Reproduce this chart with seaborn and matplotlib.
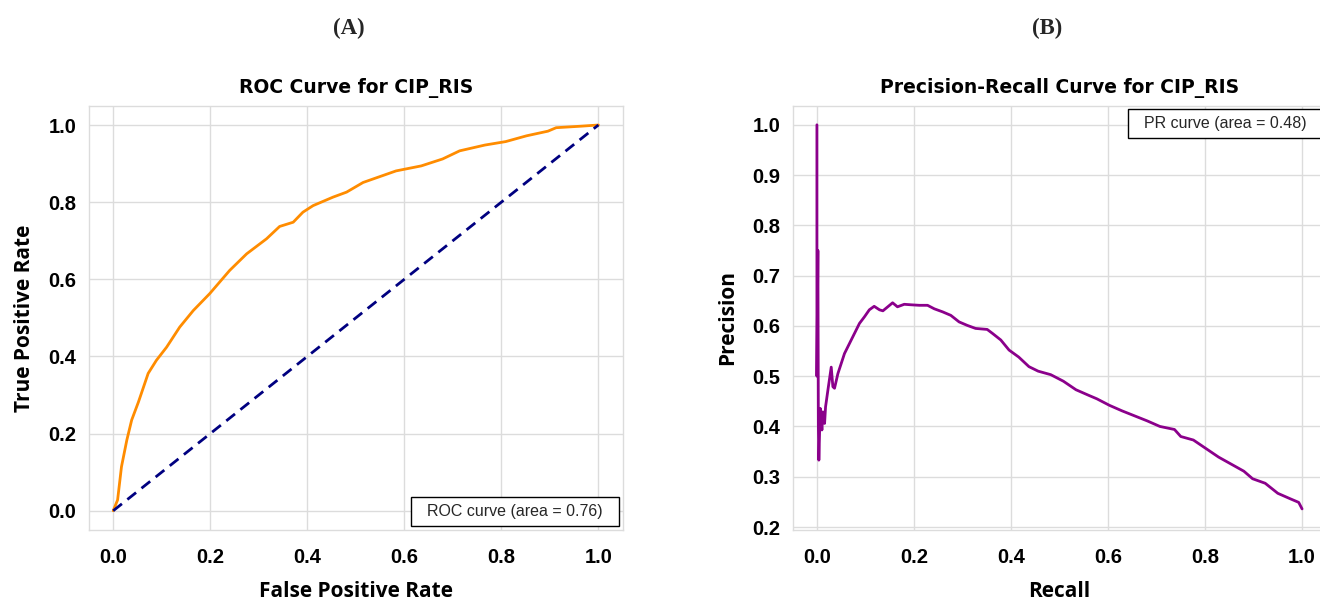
import matplotlib
matplotlib.use("Agg")
import matplotlib.pyplot as plt
import pandas as pd
import seaborn as sns

# ROC curve points (false positive rate, true positive rate)
roc_fpr = [0.000, 0.009, 0.017, 0.028, 0.038, 0.052, 0.072, 0.089, 0.110, 0.137,
           0.165, 0.199, 0.240, 0.275, 0.316, 0.343, 0.371, 0.391, 0.412, 0.453,
           0.481, 0.515, 0.549, 0.583, 0.635, 0.679, 0.714, 0.766, 0.809, 0.852,
           0.896, 0.913, 0.965, 1.000]
roc_tpr = [0.000, 0.028, 0.114, 0.183, 0.235, 0.282, 0.356, 0.390, 0.424, 0.476,
           0.519, 0.563, 0.623, 0.666, 0.705, 0.737, 0.748, 0.774, 0.791, 0.813,
           0.826, 0.851, 0.866, 0.881, 0.894, 0.912, 0.933, 0.948, 0.957, 0.972,
           0.984, 0.993, 0.997, 1.000]
chance_fpr = [0.0, 1.0]
chance_tpr = [0.0, 1.0]
roc_auc = 0.76

# Precision-recall curve points
pr_recall = [0.000, 0.000, 0.002, 0.003, 0.004, 0.0068, 0.0103, 0.0123, 0.0158, 0.0178,
             0.0226, 0.0295, 0.0329, 0.0363, 0.0432, 0.050, 0.0568, 0.0671, 0.0774, 0.0877,
             0.0979, 0.108, 0.118, 0.129, 0.136, 0.146, 0.156, 0.166, 0.180, 0.194,
             0.211, 0.228, 0.242, 0.259, 0.276, 0.293, 0.310, 0.327, 0.351, 0.362,
             0.379, 0.396, 0.416, 0.437, 0.456, 0.482, 0.508, 0.534, 0.560, 0.577,
             0.603, 0.629, 0.655, 0.681, 0.707, 0.737, 0.750, 0.776, 0.802, 0.828,
             0.854, 0.880, 0.898, 0.924, 0.950, 0.976, 0.993, 1.000]
pr_precision = [1.000, 0.500, 0.750, 0.400, 0.333, 0.436, 0.393, 0.429, 0.406, 0.439,
                0.472, 0.518, 0.479, 0.476, 0.505, 0.525, 0.545, 0.565, 0.585, 0.605,
                0.618, 0.632, 0.639, 0.632, 0.630, 0.638, 0.646, 0.638, 0.643, 0.642,
                0.641, 0.641, 0.634, 0.628, 0.621, 0.608, 0.601, 0.595, 0.593, 0.585,
                0.572, 0.552, 0.538, 0.519, 0.510, 0.503, 0.490, 0.473, 0.462, 0.455,
                0.442, 0.431, 0.421, 0.411, 0.400, 0.394, 0.380, 0.373, 0.356, 0.339,
                0.325, 0.311, 0.296, 0.287, 0.267, 0.256, 0.249, 0.236]
pr_auc = 0.48

roc_ticks = [0.0, 0.2, 0.4, 0.6, 0.8, 1.0]
pr_xticks = [0.0, 0.2, 0.4, 0.6, 0.8, 1.0]
pr_yticks = [0.2, 0.3, 0.4, 0.5, 0.6, 0.7, 0.8, 0.9, 1.0]

sns.set_theme(style="whitegrid", rc={
    "grid.color": "#dcdcdc",
    "grid.linewidth": 1.0,
    "axes.edgecolor": "#dcdcdc",
    "axes.linewidth": 1.0,
})
plt.rcParams["font.family"] = ["Liberation Sans", "DejaVu Sans"]

fig = plt.figure(figsize=(13.2, 6.01), dpi=100)
ax1 = fig.add_axes([0.0674, 0.1181, 0.4043, 0.706])
ax2 = fig.add_axes([0.6005, 0.1181, 0.4043, 0.706])

roc_df = pd.DataFrame({"fpr": roc_fpr, "tpr": roc_tpr})
chance_df = pd.DataFrame({"fpr": chance_fpr, "tpr": chance_tpr})
pr_df = pd.DataFrame({"recall": pr_recall, "precision": pr_precision})

sns.lineplot(data=roc_df, x="fpr", y="tpr", ax=ax1, color="darkorange", lw=2,
             estimator=None, sort=False, label=f"  ROC curve (area = {roc_auc:.2f})  ")
sns.lineplot(data=chance_df, x="fpr", y="tpr", ax=ax1, color="navy", lw=2,
             linestyle=(0, (4, 2.5)), estimator=None, sort=False)
sns.lineplot(data=pr_df, x="recall", y="precision", ax=ax2, color="darkmagenta", lw=2,
             estimator=None, sort=False, label=f"  PR curve (area = {pr_auc:.2f})  ")

title_kw = dict(fontsize=13.5, fontweight="bold", family=["DejaVu Sans"], pad=9)
label_kw = dict(fontsize=15, fontweight="bold", family=["Open Sans", "DejaVu Sans"])

ax1.set_title("ROC Curve for CIP_RIS", **title_kw)
ax1.set_xlabel("False Positive Rate", labelpad=10, **label_kw)
ax1.set_ylabel("True Positive Rate", labelpad=10, **label_kw)
ax1.set_xticks(roc_ticks)
ax1.set_yticks(roc_ticks)
ax1.set_xticklabels([f"{t:.1f}" for t in roc_ticks])
ax1.set_yticklabels([f"{t:.1f}" for t in roc_ticks])

ax2.set_title("Precision-Recall Curve for CIP_RIS", **title_kw)
ax2.set_xlabel("Recall", labelpad=10, **label_kw)
ax2.set_ylabel("Precision", labelpad=10, **label_kw)
ax2.set_xticks(pr_xticks)
ax2.set_yticks(pr_yticks)
ax2.set_xticklabels([f"{t:.1f}" for t in pr_xticks])
ax2.set_yticklabels([f"{t:.1f}" for t in pr_yticks])

for ax in (ax1, ax2):
    ax.set_xlim(-0.05, 1.05)
    ax.tick_params(axis="x", pad=13, labelsize=14.5, length=0)
    ax.tick_params(axis="y", pad=9, labelsize=14.5, length=0)
    for lab in ax.get_xticklabels() + ax.get_yticklabels():
        lab.set_fontweight("bold")
        lab.set_color("black")
    ax.xaxis.label.set_color("black")
    ax.yaxis.label.set_color("black")
    ax.title.set_color("black")

ax1.set_ylim(-0.05, 1.05)
ax2.set_ylim(0.194, 1.038)

leg_kw = dict(handlelength=0, handletextpad=0, fancybox=False, edgecolor="black",
              framealpha=1, fontsize=11.5, borderpad=0.45)
leg1 = ax1.legend(loc="lower right", borderaxespad=0.25, **leg_kw)
leg2 = ax2.legend(loc="upper right", borderaxespad=0.2, **leg_kw)
for leg in (leg1, leg2):
    leg.get_frame().set_linewidth(1.0)
    for h in leg.legend_handles:
        h.set_visible(False)

fig.text(0.2645, 0.953, "(A)", ha="center", va="center", fontsize=16.5,
         fontweight="bold", family=["Liberation Serif", "DejaVu Serif"])
fig.text(0.7932, 0.953, "(B)", ha="center", va="center", fontsize=16.5,
         fontweight="bold", family=["Liberation Serif", "DejaVu Serif"])

fig.savefig("out.png", dpi=100)
